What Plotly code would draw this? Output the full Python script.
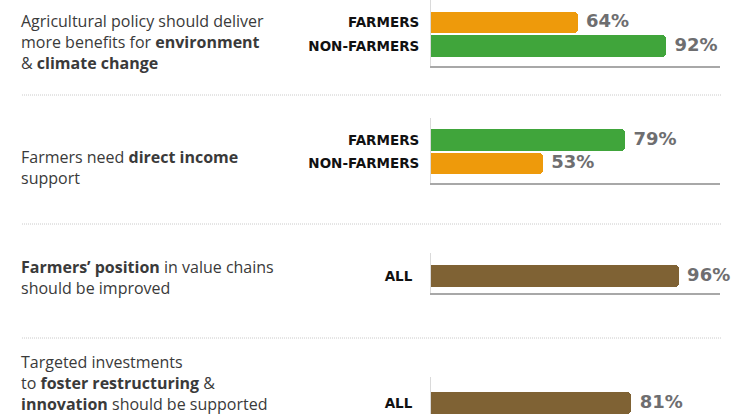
import plotly.graph_objects as go

# ---------------- data ----------------
statements = [
    "Agricultural policy should deliver<br>more benefits for <b>environment</b><br>&amp; <b>climate change</b>",
    "Farmers need <b>direct income</b><br>support",
    "<b>Farmers’ position</b> in value chains<br>should be improved",
    "Targeted investments<br>to <b>foster restructuring</b> &amp;<br><b>innovation</b> should be supported",
]
env_groups = ["FARMERS", "NON-FARMERS"]
env_values = [64, 92]
income_groups = ["FARMERS", "NON-FARMERS"]
income_values = [79, 53]
position_groups = ["ALL"]
position_values = [96]
invest_groups = ["ALL"]
invest_values = [81]

# ---------------- styles / layout ----------------
W, H = 738, 414
ORANGE = "#EE9A0B"
GREEN = "#40A53B"
BROWN = "#7F6234"
env_colors = [ORANGE, GREEN]
income_colors = [GREEN, ORANGE]
position_colors = [BROWN]
invest_colors = [BROWN]

X_LEFT_PX, X_RIGHT_PX = 431, 720
X_RANGE = [17.6, 109.1]
UNIT = 23.5  # px per category slot

# (groups, values, colours, top px, bottom px, first-bar centre px, label standoff, show baseline)
sections = [
    (env_groups, env_values, env_colors, 0, 66, 22.5, 8, True),
    (income_groups, income_values, income_colors, 118, 183, 140, 8, True),
    (position_groups, position_values, position_colors, 253, 293, 276, 15, True),
    (invest_groups, invest_values, invest_colors, 377, 414, 403, 15, False),
]
text_centres = [41.5, 167, 277.5, 383]
separators = [95, 224, 338]

fig = go.Figure()
layout = dict()
for i, (grp, vals, cols, top, bot, c0, standoff, showbase) in enumerate(sections):
    n = i + 1
    xa = "x" if n == 1 else f"x{n}"
    ya = "y" if n == 1 else f"y{n}"
    fig.add_trace(go.Bar(
        x=vals, y=grp, orientation="h", xaxis=xa, yaxis=ya,
        marker=dict(color=cols, cornerradius=4, line=dict(width=0)),
        width=0.93, cliponaxis=True, showlegend=False, hoverinfo="skip",
    ))
    fig.add_trace(go.Scatter(
        x=vals, y=grp, mode="markers+text", xaxis=xa, yaxis=ya,
        marker=dict(size=12, opacity=0),
        text=[f"{v}%" for v in vals], textposition="middle right",
        textfont=dict(family="DejaVu Sans", size=18, color="#6E6E70", weight="bold"),
        cliponaxis=False, showlegend=False, hoverinfo="skip",
    ))
    r_top = -(c0 - top) / UNIT
    r_bot = (len(grp) - 1) + (bot - (c0 + (len(grp) - 1) * UNIT)) / UNIT
    xkey = "xaxis" if n == 1 else f"xaxis{n}"
    ykey = "yaxis" if n == 1 else f"yaxis{n}"
    layout[xkey] = dict(
        domain=[X_LEFT_PX / W, X_RIGHT_PX / W], range=X_RANGE, anchor=ya,
        showgrid=False, zeroline=False, showticklabels=False, ticks="",
        showline=showbase, linecolor="#A8A8A8", linewidth=2, fixedrange=True,
    )
    layout[ykey] = dict(
        domain=[1 - bot / H, 1 - top / H], range=[r_bot, r_top], anchor=xa,
        type="category", categoryorder="array", categoryarray=grp,
        showgrid=False, zeroline=False, ticks="",
        showline=True, linecolor="#DADADA", linewidth=1,
        tickfont=dict(family="DejaVu Sans", size=13.5, color="#111111", weight="bold"),
        ticklabelstandoff=standoff, fixedrange=True,
    )

annotations = []
for txt, yc in zip(statements, text_centres):
    annotations.append(dict(
        text=txt, xref="paper", yref="paper", x=19 / W, y=1 - yc / H,
        xanchor="left", yanchor="middle", align="left", showarrow=False,
        font=dict(family="Open Sans", size=16, color="#3A3A3A"),
    ))

shapes = []
for yp in separators:
    shapes.append(dict(
        type="line", xref="paper", yref="paper", x0=22 / W, x1=722 / W,
        y0=1 - yp / H, y1=1 - yp / H,
        line=dict(color="#CACACA", width=1, dash="1px,1px"),
    ))

fig.update_layout(
    width=W, height=H, margin=dict(l=0, r=0, t=0, b=0),
    paper_bgcolor="white", plot_bgcolor="white",
    annotations=annotations, shapes=shapes, bargap=0,
    **layout,
)

fig.write_html(
    "out.html",
    config={"displayModeBar": False},
    post_script="document.body.style.margin='0';document.body.style.padding='0';",
)
